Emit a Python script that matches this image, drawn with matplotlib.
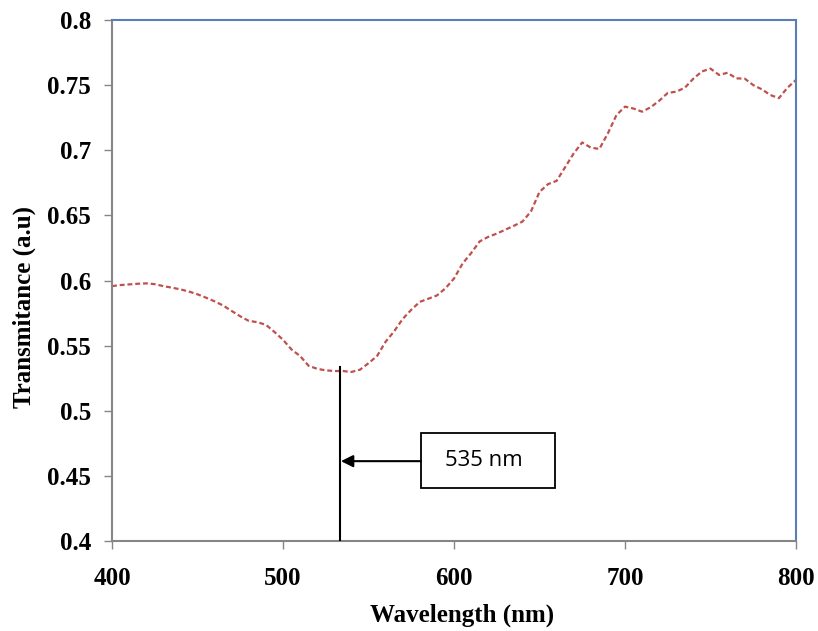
import matplotlib
matplotlib.use("Agg")
import matplotlib.pyplot as plt
from matplotlib.patches import Rectangle

wavelength = [400, 405, 410, 415, 420, 425, 430, 435, 440, 445, 450, 455, 460, 465,
              470, 475, 480, 485, 490, 495, 500, 505, 510, 515, 520, 525, 530, 535,
              540, 545, 550, 555, 560, 565, 570, 575, 580, 585, 590, 595, 600, 605,
              610, 615, 620, 625, 630, 635, 640, 645, 650, 655, 660, 665, 670, 675,
              680, 685, 690, 695, 700, 705, 710, 715, 720, 725, 730, 735, 740, 745,
              750, 755, 760, 765, 770, 775, 780, 785, 790, 795, 800]
transmittance = [0.5957, 0.5965, 0.5970, 0.5975, 0.5978, 0.5972, 0.5957, 0.5945,
                 0.5932, 0.5915, 0.5894, 0.5868, 0.5840, 0.5808, 0.5766, 0.5725,
                 0.5690, 0.5680, 0.5660, 0.5605, 0.5545, 0.5470, 0.5420, 0.5345,
                 0.5322, 0.5310, 0.5305, 0.5305, 0.5298, 0.5315, 0.5365, 0.5420,
                 0.5530, 0.5610, 0.5705, 0.5775, 0.5836, 0.5860, 0.5885, 0.5940,
                 0.6015, 0.6130, 0.6210, 0.6300, 0.6335, 0.6360, 0.6390, 0.6420,
                 0.6452, 0.6530, 0.6680, 0.6740, 0.6765, 0.6870, 0.6976, 0.7060,
                 0.7020, 0.7010, 0.7130, 0.7270, 0.7335, 0.7320, 0.7296, 0.7330,
                 0.7380, 0.7440, 0.7450, 0.7480, 0.7550, 0.7605, 0.7627, 0.7578,
                 0.7595, 0.7552, 0.7550, 0.7500, 0.7468, 0.7424, 0.7400, 0.7480,
                 0.7540]

x_ticks = [400, 500, 600, 700, 800]
y_ticks = [0.4, 0.45, 0.5, 0.55, 0.6, 0.65, 0.7, 0.75, 0.8]
y_tick_labels = ["0.4", "0.45", "0.5", "0.55", "0.6", "0.65", "0.7", "0.75", "0.8"]
peak_nm = 533.5
peak_top = 0.5335
label_text = "535 nm"

fig = plt.figure(figsize=(8.18, 6.31), dpi=100)
ax = fig.add_axes([112/818, 1-541/631, (796-112)/818, (541-20)/631])

ax.plot(wavelength, transmittance, color="#C0504D", lw=1.6,
        linestyle=(0, (2.2, 1.3)))

ax.set_xlim(400, 800)
ax.set_ylim(0.4, 0.8)
ax.set_xticks(x_ticks)
ax.set_xticklabels([str(t) for t in x_ticks])
ax.set_yticks(y_ticks)
ax.set_yticklabels(y_tick_labels)

serif = {"family": "Liberation Serif", "weight": "bold"}
for lab in ax.get_xticklabels() + ax.get_yticklabels():
    lab.set_fontfamily("Liberation Serif")
    lab.set_fontweight("bold")
    lab.set_fontsize(18)

ax.tick_params(axis="both", direction="out", length=6, width=1, color="#868686")
ax.tick_params(axis="y", pad=9)
ax.tick_params(axis="x", pad=13)

for s in ["left", "bottom"]:
    ax.spines[s].set_color("#868686")
    ax.spines[s].set_linewidth(1.5)
for s in ["top", "right"]:
    ax.spines[s].set_color("#5B7DB4")
    ax.spines[s].set_linewidth(1.5)

ax.set_xlabel("Wavelength (nm)", fontdict=serif, fontsize=18)
ax.set_ylabel("Transmitance (a.u)", fontdict=serif, fontsize=18)
ax.xaxis.set_label_coords((462 - 112) / 684, (541 - 604) / 521)
ax.yaxis.set_label_coords((36 - 112) / 684, (541 - 307) / 521)

# vertical marker line
ax.plot([peak_nm, peak_nm], [0.4, peak_top], color="black", lw=1.5, zorder=3)

# label box
box_x0, box_x1 = 580.7, 659.0
box_y0, box_y1 = 0.4405, 0.4830
ax.add_patch(Rectangle((box_x0, box_y0), box_x1 - box_x0, box_y1 - box_y0,
                       fill=False, edgecolor="black", lw=1.3, zorder=4))
ax.text(617.5, 0.4615, label_text, fontsize=16, family="Open Sans",
        ha="center", va="center", zorder=5)

ax.annotate("", xy=(peak_nm + 0.4, 0.4613), xytext=(box_x0, 0.4613),
            arrowprops=dict(arrowstyle="-|>", color="black", lw=1.5,
                            mutation_scale=18, shrinkA=0, shrinkB=0),
            zorder=5)

fig.savefig("out.png", dpi=100)
